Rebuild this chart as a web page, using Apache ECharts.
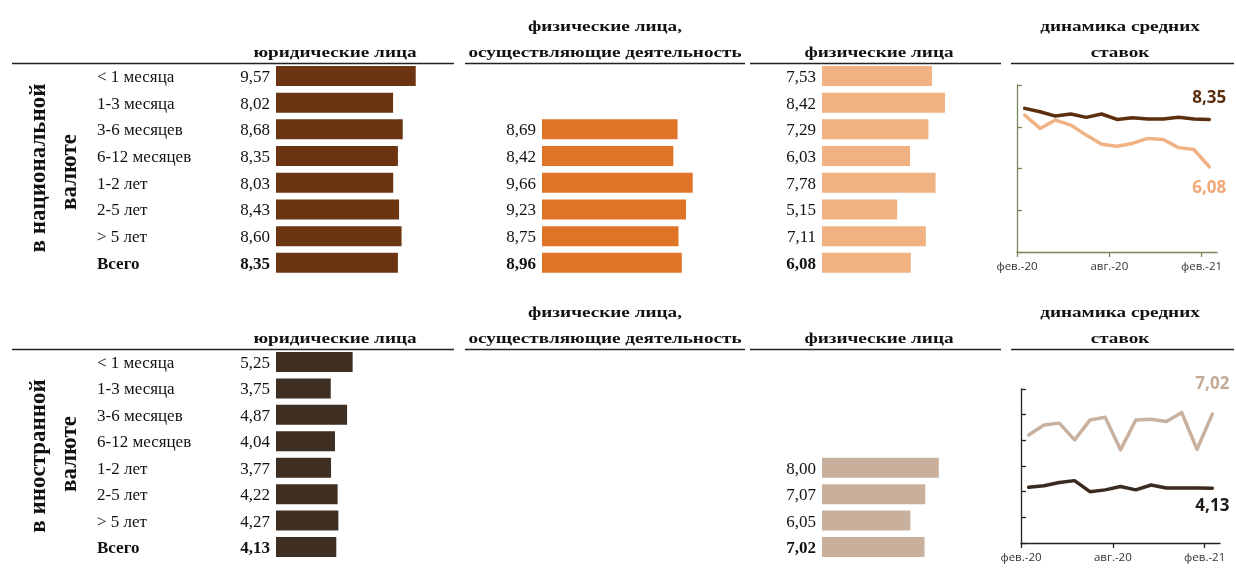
<!DOCTYPE html>
<html><head><meta charset="utf-8">
<script src="https://cdn.jsdelivr.net/npm/echarts@6/dist/echarts.min.js"></script>
<style>html,body{margin:0;padding:0;background:#fff}#c{width:1236px;height:570px}</style>
</head><body><div id="c"></div>
<script>
const terms = ['< 1 месяца','1-3 месяца','3-6 месяцев','6-12 месяцев','1-2 лет','2-5 лет','> 5 лет','Всего'];
const natLegal = [9.57,8.02,8.68,8.35,8.03,8.43,8.60,8.35];
const natEntrep = [null,null,8.69,8.42,9.66,9.23,8.75,8.96];
const natIndiv = [7.53,8.42,7.29,6.03,7.78,5.15,7.11,6.08];
const forLegal = [5.25,3.75,4.87,4.04,3.77,4.22,4.27,4.13];
const forIndiv = [null,null,null,null,8.00,7.07,6.05,7.02];
const months = ['фев.-20','мар.-20','апр.-20','май.-20','июн.-20','июл.-20','авг.-20','сен.-20','окт.-20','ноя.-20','дек.-20','янв.-21','фев.-21'];
const natLegalTrend = [8.88,8.72,8.51,8.61,8.45,8.61,8.35,8.43,8.37,8.37,8.45,8.37,8.35];
const natIndivTrend = [8.56,7.92,8.32,8.08,7.60,7.16,7.07,7.20,7.44,7.39,7.00,6.91,6.08];
const forLegalTrend = [4.17,4.23,4.36,4.43,4.00,4.07,4.20,4.07,4.26,4.14,4.14,4.14,4.13];
const forIndivTrend = [6.21,6.60,6.67,6.02,6.79,6.90,5.63,6.79,6.82,6.73,7.08,5.65,7.02];

const SERIF = 'Liberation Serif';
const FS = 17;
const fmt = v => v.toFixed(2).replace('.', ',');
const chart = echarts.init(document.getElementById('c'));

const barGrids = [
  {left:276, top:62.6, width:146, height:213.6},
  {left:542, top:62.6, width:156, height:213.6},
  {left:822, top:62.6, width:146, height:213.6},
  {left:276, top:348.8, width:146, height:211.4},
  {left:822, top:348.8, width:146, height:211.4}
];
const barSets = [
  {data:natLegal, color:'#6b3512', cats:true},
  {data:natEntrep, color:'#df7427', cats:false},
  {data:natIndiv, color:'#f0b283', cats:false},
  {data:forLegal, color:'#3f2e22', cats:true},
  {data:forIndiv, color:'#c8b09c', cats:false}
];
const grids = barGrids.slice();
grids.push({left:1017, top:85, width:200, height:167});
grids.push({left:1021, top:389, width:199, height:154});

const xAxes = [], yAxes = [], series = [];
barSets.forEach((s, i) => {
  xAxes.push({type:'value', gridIndex:i, min:0, max:10, show:false});
  yAxes.push({type:'category', gridIndex:i, data:terms, inverse:true,
    axisLine:{show:false}, axisTick:{show:false}, splitLine:{show:false},
    axisLabel:{show:s.cats, align:'left', margin:179, fontFamily:SERIF, fontSize:FS, color:'#111', padding:[3,0,0,0],
      formatter: v => v === 'Всего' ? '{b|' + v + '}' : v,
      rich:{b:{fontWeight:'bold', fontFamily:SERIF, fontSize:FS, color:'#111'}}}
  });
  series.push({type:'bar', xAxisIndex:i, yAxisIndex:i, data:s.data, barWidth:20,
    itemStyle:{color:s.color}, silent:true,
    label:{show:true, position:'left', distance:6, fontFamily:SERIF, fontSize:FS, color:'#111', padding:[3,0,0,0],
      formatter: p => p.value == null ? '' : (p.dataIndex === 7 ? '{b|' + fmt(p.value) + '}' : fmt(p.value)),
      rich:{b:{fontWeight:'bold', fontFamily:SERIF, fontSize:FS, color:'#111'}}}
  });
});

function lineAxes(gi, min, max, interval, axisColor) {
  xAxes.push({type:'value', gridIndex:gi, min:0, max:13, interval:6,
    axisLine:{lineStyle:{color:axisColor, width:1.3}},
    axisTick:{show:true, length:5, lineStyle:{color:axisColor, width:1.3}},
    splitLine:{show:false},
    axisLabel:{margin:9, fontFamily:'Open Sans', fontSize:11.5, color:'#333',
      formatter: v => months[v] || '', showMaxLabel:false}
  });
  yAxes.push({type:'value', gridIndex:gi, min:min, max:max, interval:interval,
    axisLine:{show:true, lineStyle:{color:axisColor, width:1.3}},
    axisTick:{show:true, inside:true, length:5, lineStyle:{color:axisColor, width:1.3}},
    splitLine:{show:false}, axisLabel:{show:false}
  });
}
lineAxes(5, 2, 10, 2, '#7b8658');
lineAxes(6, 2, 8, 1, '#222');

function lineSeries(ai, arr, color, labelColor, pos, dist) {
  series.push({type:'line', xAxisIndex:ai, yAxisIndex:ai, silent:true,
    data: arr.map((v, i) => [i + 0.5, v]),
    showSymbol:true, symbol:'circle', symbolSize:1, itemStyle:{color:color},
    lineStyle:{color:color, width:3.5, join:'round', cap:'round'},
    label:{show:true, position:pos, distance:dist, fontFamily:'Open Sans', fontWeight:'bold', fontSize:17, color:labelColor,
      formatter: p => p.dataIndex === arr.length - 1 ? fmt(p.value[1]) : ''}
  });
}
lineSeries(5, natLegalTrend, '#5c2f0f', '#5c2f0f', 'top', 12);
lineSeries(5, natIndivTrend, '#f1b283', '#f2a875', 'bottom', 12);
lineSeries(6, forLegalTrend, '#3a2a1f', '#1f1a16', 'bottom', 9);
lineSeries(6, forIndivTrend, '#c9b19f', '#c4ab98', 'top', 21);

const hdr = (x, y, t) => ({type:'text', x:x, y:y, scaleX:1.28, style:{text:t, fontFamily:SERIF, fontWeight:'bold', fontSize:15, fill:'#111', align:'center', verticalAlign:'middle'}});
const hline = (x1, x2, y) => ({type:'line', shape:{x1:x1, y1:y, x2:x2, y2:y}, style:{stroke:'#222', lineWidth:1.5}});
const vtxt = (x, y, t) => ({type:'text', x:x, y:y, rotation:Math.PI/2, style:{text:t, fontFamily:SERIF, fontWeight:'bold', fontSize:23, fill:'#111', align:'center', verticalAlign:'middle'}});

const graphic = [];
[0, 286].forEach(dy => {
  graphic.push(hdr(335, 53 + dy, 'юридические лица'));
  graphic.push(hdr(605, 27 + dy, 'физические лица,'));
  graphic.push(hdr(605, 53 + dy, 'осуществляющие деятельность'));
  graphic.push(hdr(879, 53 + dy, 'физические лица'));
  graphic.push(hdr(1120, 27 + dy, 'динамика средних'));
  graphic.push(hdr(1120, 53 + dy, 'ставок'));
  graphic.push(hline(12, 454, 63.5 + dy));
  graphic.push(hline(465, 745, 63.5 + dy));
  graphic.push(hline(750, 1001, 63.5 + dy));
  graphic.push(hline(1011, 1234, 63.5 + dy));
});
graphic.push(vtxt(39, 168, 'в национальной'));
graphic.push(vtxt(70, 172, 'валюте'));
graphic.push(vtxt(39, 456, 'в иностранной'));
graphic.push(vtxt(70, 454, 'валюте'));

chart.setOption({
  animation:false,
  grid:grids, xAxis:xAxes, yAxis:yAxes, series:series, graphic:graphic
});
</script></body></html>
